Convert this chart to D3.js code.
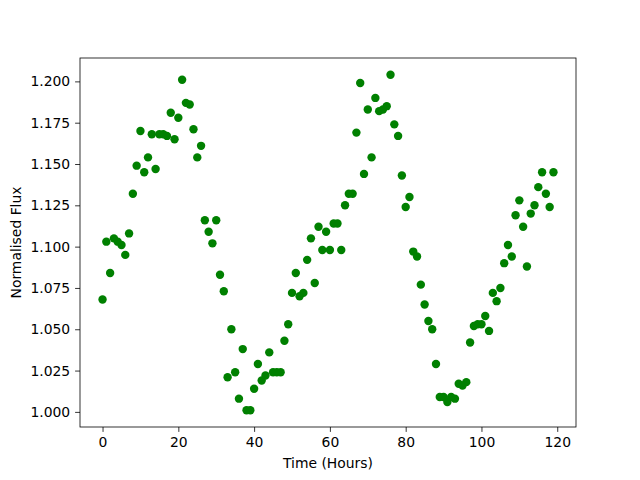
<!DOCTYPE html>
<meta charset="utf-8">
<style>
body { margin: 0; background: #fff; }
text { font-family: "DejaVu Sans", sans-serif; fill: #000; }
</style>
<svg width="640" height="480"></svg>
<script src="https://d3js.org/d3.v7.min.js"></script>
<script>
// flux readings, one per hour
var hours = d3.range(0, 120);
var flux = [
  1.068, 1.103, 1.084, 1.105, 1.103, 1.101, 1.095, 1.108, 1.132, 1.149,
  1.170, 1.145, 1.154, 1.168, 1.147, 1.168, 1.168, 1.167, 1.181, 1.165,
  1.178, 1.201, 1.187, 1.186, 1.171, 1.154, 1.161, 1.116, 1.109, 1.102,
  1.116, 1.083, 1.073, 1.021, 1.050, 1.024, 1.008, 1.038, 1.001, 1.001,
  1.014, 1.029, 1.019, 1.022, 1.036, 1.024, 1.024, 1.024, 1.043, 1.053,
  1.072, 1.084, 1.070, 1.072, 1.092, 1.105, 1.078, 1.112, 1.098, 1.109,
  1.098, 1.114, 1.114, 1.098, 1.125, 1.132, 1.132, 1.169, 1.199, 1.144,
  1.183, 1.154, 1.190, 1.182, 1.183, 1.185, 1.204, 1.174, 1.167, 1.143,
  1.124, 1.130, 1.097, 1.094, 1.077, 1.065, 1.055, 1.050, 1.029, 1.009,
  1.009, 1.006, 1.009, 1.008, 1.017, 1.016, 1.018, 1.042, 1.052, 1.053,
  1.053, 1.058, 1.049, 1.072, 1.067, 1.075, 1.090, 1.101, 1.094, 1.119,
  1.128, 1.112, 1.088, 1.120, 1.125, 1.136, 1.145, 1.132, 1.124, 1.145
];
var xTicks = [0, 20, 40, 60, 80, 100, 120];
var yTicks = [1.000, 1.025, 1.050, 1.075, 1.100, 1.125, 1.150, 1.175, 1.200];

var svg = d3.select("svg"),
    plotLeft = 80, plotRight = 576, plotTop = 58, plotBottom = 427;

// matplotlib style 5% padding
var xPad = (d3.max(hours) - d3.min(hours)) * 0.05,
    yPad = (d3.max(flux) - d3.min(flux)) * 0.05;

var x = d3.scaleLinear()
    .domain([d3.min(hours) - xPad, d3.max(hours) + xPad])
    .range([plotLeft, plotRight]);
var y = d3.scaleLinear()
    .domain([d3.min(flux) - yPad, d3.max(flux) + yPad])
    .range([plotBottom, plotTop]);

var xAxis = svg.append("g")
    .attr("transform", "translate(0," + plotBottom + ")")
    .call(d3.axisBottom(x).tickValues(xTicks).tickSize(4.9).tickPadding(4.9).tickFormat(d3.format("d")));
var yAxis = svg.append("g")
    .attr("transform", "translate(" + plotLeft + ",0)")
    .call(d3.axisLeft(y).tickValues(yTicks).tickSize(4.9).tickPadding(4.9).tickFormat(d3.format(".3f")));

[xAxis, yAxis].forEach(function(a) {
  a.select(".domain").remove();
  a.selectAll("line").attr("stroke", "#000").attr("stroke-width", 0.8);
  a.selectAll("text").style("font-size", "13.9px").style("font-family", "DejaVu Sans");
});

// dots
svg.append("g")
  .selectAll("circle")
  .data(hours)
  .enter().append("circle")
    .attr("cx", function(d) { return x(d); })
    .attr("cy", function(d, i) { return y(flux[i]); })
    .attr("r", 4.2)
    .style("fill", "#008000");

// frame
svg.append("rect")
    .attr("x", plotLeft).attr("y", plotTop)
    .attr("width", plotRight - plotLeft).attr("height", plotBottom - plotTop)
    .attr("fill", "none").attr("stroke", "#000").attr("stroke-width", 0.8);

svg.append("text")
    .attr("x", (plotLeft + plotRight) / 2).attr("y", 468)
    .attr("text-anchor", "middle")
    .style("font-size", "13.9px")
    .text("Time (Hours)");

svg.append("text")
    .attr("transform", "translate(21," + (plotTop + plotBottom) / 2 + ") rotate(-90)")
    .attr("text-anchor", "middle")
    .style("font-size", "13.9px")
    .text("Normalised Flux");
</script>
